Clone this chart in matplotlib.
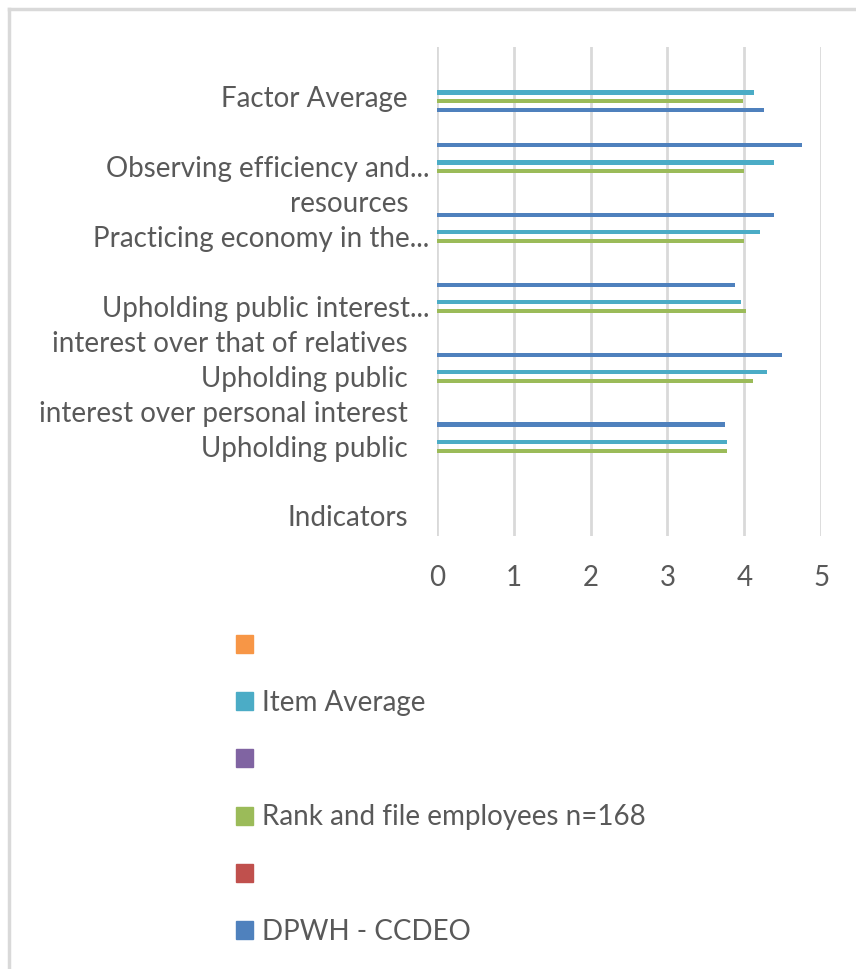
import matplotlib
matplotlib.use("Agg")
import matplotlib.pyplot as plt
from matplotlib.patches import Patch
from matplotlib.lines import Line2D
import numpy as np

plt.rcParams['font.family'] = ['Lato', 'DejaVu Sans']

# category rows, bottom to top (long labels spill over several rows)
categories = ["Indicators", "", "Upholding public",
              "interest over personal interest", "Upholding public",
              "interest over that of relatives", "Upholding public interest...",
              "", "Practicing economy in the...", "resources",
              "Observing efficiency and...", "", "Factor Average", ""]

nan = np.nan
dpwh = [nan, nan, nan, 3.75, nan, 4.49, nan, 3.875, nan, 4.39, nan, 4.75, 4.26, nan]
rank_file = [nan, nan, 3.77, nan, 4.11, nan, 4.02, nan, 4.00, nan, 4.00, nan, 3.98, nan]
item_avg = [nan, nan, 3.77, nan, 4.30, nan, 3.96, nan, 4.20, nan, 4.39, nan, 4.13, nan]
blank = [nan] * len(categories)

series_names = ["DPWH - CCDEO", "", "Rank and file employees n=168", "", "Item Average", ""]
series_vals = [dpwh, blank, rank_file, blank, item_avg, blank]
colors = ["#4F81BD", "#C0504D", "#9BBB59", "#8064A2", "#4BACC6", "#F79646"]

txt = "#595959"
grid = "#D9D9D9"
fs = 20

fig = plt.figure(figsize=(8.56, 9.69), dpi=100)
ax = fig.add_axes([0.5102, 0.4469, 0.9595 - 0.5102, 0.9518 - 0.4469])

y = np.arange(len(categories))
slot = 0.125
for i, (vals, c) in enumerate(zip(series_vals, colors)):
    ax.barh(y + (i - 2.5) * slot, vals, height=0.12, color=c, linewidth=0)

ax.set_xlim(0, 5)
ax.set_ylim(-0.5, len(categories) - 0.5)
ax.set_xticks(range(6))
ax.set_yticks([])
ax.grid(axis='x', color=grid, linewidth=2)
ax.set_axisbelow(True)
for s in ax.spines.values():
    s.set_visible(False)
ax.tick_params(axis='x', length=0, pad=21, labelsize=fs, labelcolor=txt)

# category labels; truncated ones hang past the label column
for yy, lab in zip(y, categories):
    if not lab:
        continue
    xpos = -0.020 if lab.endswith("...") else -0.0746
    ax.text(xpos, yy, lab, transform=ax.get_yaxis_transform(), ha='right',
            va='center', fontsize=fs, color=txt)

# legend, listed top to bottom
handles = [Patch(color=c) for c in colors[::-1]]
fig.legend(handles, series_names[::-1], loc='upper left',
           bbox_to_anchor=(236 / 856, 1 - 633 / 969), frameon=False,
           fontsize=fs, labelcolor=txt, handlelength=0.62, handleheight=0.62,
           handletextpad=0.3, labelspacing=1.12, borderpad=0, borderaxespad=0)

# chart area border (top and left edges show)
fig.add_artist(Line2D([8.7 / 856, 1], [1 - 8.7 / 969] * 2, transform=fig.transFigure,
                      color=grid, linewidth=2.5))
fig.add_artist(Line2D([8.7 / 856] * 2, [0, 1 - 8.7 / 969], transform=fig.transFigure,
                      color=grid, linewidth=2.5))

fig.savefig("out.png", dpi=100, facecolor="white")
